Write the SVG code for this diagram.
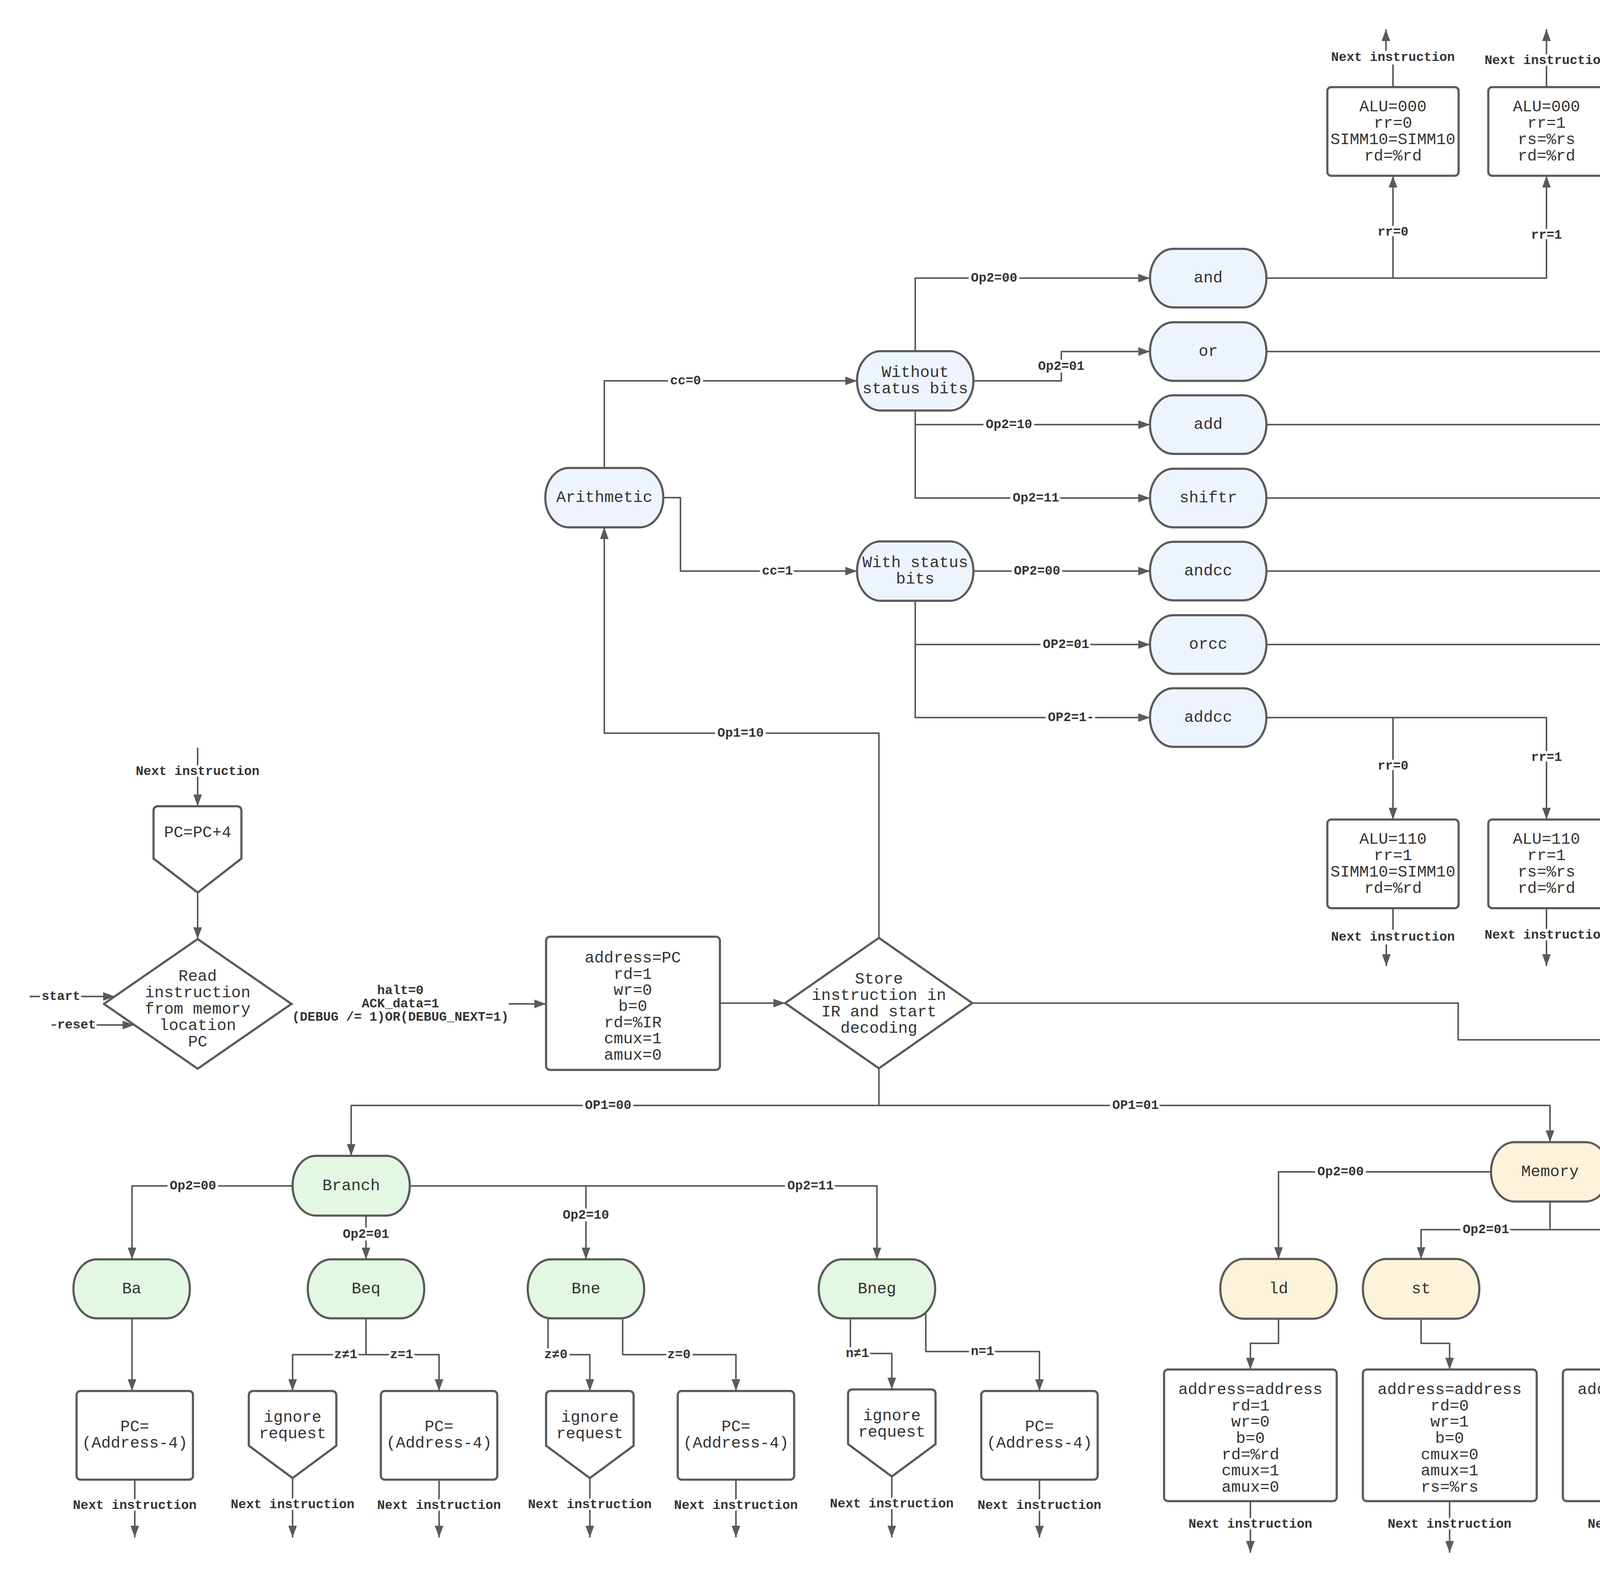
<svg xmlns="http://www.w3.org/2000/svg" width="6624" height="4050" viewBox="0 0 6624 4050">
<style>
.n{stroke:#5a5a5a;stroke-width:5.5;stroke-linejoin:round}
.bl{fill:#edf4fe}.gr{fill:#e2f8e2}.ye{fill:#fdf2da}.pk{fill:#faedfd}.wh{fill:#ffffff}
.t{font-family:'Liberation Mono',monospace;font-size:41px;fill:#333;text-anchor:middle;dominant-baseline:central}
.c{fill:none;stroke:#5a5a5a;stroke-width:4;stroke-linejoin:round;marker-end:url(#ah)}
.l{font-family:'Liberation Mono',monospace;font-weight:bold;font-size:33px;fill:#333;text-anchor:middle;dominant-baseline:central;stroke:#fff;stroke-width:14;paint-order:stroke;stroke-linejoin:round}
.lb{fill:#fff}
</style>
<defs>
<marker id="ah" viewBox="0 0 30 22" refX="30" refY="11" markerWidth="30" markerHeight="22" markerUnits="userSpaceOnUse" orient="auto"><path d="M0,0 L30,11 L0,22 Z" fill="#5a5a5a"/></marker>
</defs>
<rect width="6624" height="4050" fill="#fff"/>
<g id="connectors">
<path class="c" d="M1547,1198 V975 H2194"/>
<path class="c" d="M1698,1274 H1742 V1462 H2194"/>
<path class="c" d="M2250,2401 V1877 H1547 V1350"/>
<path class="c" d="M2343,899 V712 H2944"/>
<path class="c" d="M2492,975 H2717 V900 H2944"/>
<path class="c" d="M2343,1051 V1087 H2944"/>
<path class="c" d="M2343,1051 V1275 H2944"/>
<path class="c" d="M2492,1462 H2944"/>
<path class="c" d="M2343,1538 V1650 H2944"/>
<path class="c" d="M2343,1538 V1837 H2944"/>
<path class="c" d="M3242,712 H3566 V450"/>
<path class="c" d="M3242,712 H3959 V450"/>
<path class="c" d="M3242,900 H4390 V450"/>
<path class="c" d="M3242,900 H4783 V450"/>
<path class="c" d="M3242,1087 H5216 V450"/>
<path class="c" d="M3242,1087 H5610 V450"/>
<path class="c" d="M3242,1275 H4504 V1124 H5762"/>
<path class="c" d="M3242,1275 H4504 V1425 H5762"/>
<path class="c" d="M3242,1462 H5216 V2098"/>
<path class="c" d="M3242,1462 H5610 V2098"/>
<path class="c" d="M3242,1650 H4390 V2098"/>
<path class="c" d="M3242,1650 H4783 V2098"/>
<path class="c" d="M3242,1837 H3566 V2098"/>
<path class="c" d="M3242,1837 H3959 V2098"/>
<path class="c" d="M3566,223 V165 M3548,130 V75"/>
<path class="c" d="M3959,223 V75"/>
<path class="c" d="M4390,223 V165 M4372,130 V75"/>
<path class="c" d="M4783,223 V75"/>
<path class="c" d="M5216,223 V165 M5198,130 V75"/>
<path class="c" d="M5610,223 V75"/>
<path class="c" d="M3566,2325 V2380 M3549,2418 V2473"/>
<path class="c" d="M3959,2325 V2473"/>
<path class="c" d="M4390,2325 V2380 M4370,2418 V2473"/>
<path class="c" d="M4783,2325 V2473"/>
<path class="c" d="M5216,2325 V2380 M5196,2418 V2473"/>
<path class="c" d="M5610,2325 V2473"/>
<path class="c" d="M6060,1124 H6546"/>
<path class="c" d="M6098,1425 H6546"/>
<path class="c" d="M506,1914 V2064"/>
<path class="c" d="M506,2285 V2404"/>
<path class="c" d="M76,2551 H294"/>
<path class="c" d="M132,2624 H344"/>
<path class="c" d="M746,2570 H1398"/>
<path class="c" d="M1843,2568 H2010"/>
<path class="c" d="M2250,2735 V2830 H899 V2959"/>
<path class="c" d="M2250,2735 V2830 H3968 V2924"/>
<path class="c" d="M2489,2568 H3733 V2662 H4975"/>
<path class="c" d="M749,3036 H338 V3224"/>
<path class="c" d="M937,3112 V3224"/>
<path class="c" d="M1049,3036 H1500 V3224"/>
<path class="c" d="M1049,3036 H2245 V3224"/>
<path class="c" d="M338,3375 V3561"/>
<path class="c" d="M937,3375 V3468 H749 V3561"/>
<path class="c" d="M937,3375 V3468 H1124 V3561"/>
<path class="c" d="M1403,3372 V3468 H1510 V3561"/>
<path class="c" d="M1594,3373 V3468 H1884 V3561"/>
<path class="c" d="M2177,3372 V3465 H2283 V3557"/>
<path class="c" d="M2370,3358 V3460 H2661 V3561"/>
<path class="c" d="M345,3788 V3936"/>
<path class="c" d="M749,3784 V3936"/>
<path class="c" d="M1124,3788 V3936"/>
<path class="c" d="M1510,3784 V3936"/>
<path class="c" d="M1884,3788 V3936"/>
<path class="c" d="M2283,3780 V3936"/>
<path class="c" d="M2661,3788 V3936"/>
<path class="c" d="M3817,3000 H3273 V3223"/>
<path class="c" d="M4119,3000 H4662 V3223"/>
<path class="c" d="M3968,3076 V3148 H3638 V3223"/>
<path class="c" d="M3968,3076 V3148 H4295 V3223"/>
<path class="c" d="M3273,3376 V3439 H3201 V3506"/>
<path class="c" d="M3638,3376 V3439 H3711 V3506"/>
<path class="c" d="M4295,3376 V3439 H4223 V3506"/>
<path class="c" d="M4662,3376 V3439 H4734 V3506"/>
<path class="c" d="M3201,3843 V3975"/>
<path class="c" d="M3711,3843 V3975"/>
<path class="c" d="M4223,3843 V3975"/>
<path class="c" d="M4734,3843 V3975"/>
<path class="c" d="M5206,2737 V2987 H5276 V3241"/>
<path class="c" d="M5206,2737 V2987 H5651 V3241"/>
<path class="c" d="M5206,2737 V2987 H6025 V3241"/>
<path class="c" d="M5276,3390 V3577"/>
<path class="c" d="M5651,3390 V3577"/>
<path class="c" d="M6025,3390 V3577"/>
<path class="c" d="M5276,3803 V3953"/>
<path class="c" d="M5651,3803 V3953"/>
<g id="labels">
<text class="l" x="1755" y="975">cc=0</text>
<text class="l" x="1990" y="1462">cc=1</text>
<text class="l" x="1896" y="1877">Op1=10</text>
<text class="l" x="2545" y="712">Op2=00</text>
<text class="l" x="2717" y="938">Op2=01</text>
<text class="l" x="2583" y="1087">Op2=10</text>
<text class="l" x="2652" y="1275">Op2=11</text>
<text class="l" x="2655" y="1462">OP2=00</text>
<text class="l" x="2729" y="1650">OP2=01</text>
<text class="l" x="2742" y="1837">OP2=1-</text>
<text class="l" x="3566" y="594">rr=0</text>
<text class="l" x="3959" y="602">rr=1</text>
<text class="l" x="4390" y="624">rr=0</text>
<text class="l" x="4783" y="674">rr=1</text>
<text class="l" x="5216" y="752">rr=0</text>
<text class="l" x="5610" y="750">r=11</text>
<text class="l" x="5377" y="1124">rr=0</text>
<text class="l" x="5259" y="1425">rr=1</text>
<text class="l" x="5216" y="1812">rr=0</text>
<text class="l" x="5610" y="1800">rr=1</text>
<text class="l" x="4390" y="1921">rr=0</text>
<text class="l" x="4783" y="1893">rr=1</text>
<text class="l" x="3566" y="1961">rr=0</text>
<text class="l" x="3959" y="1939">rr=1</text>
<text class="l" x="3566" y="147">Next instruction</text>
<text class="l" x="3959" y="155">Next instruction</text>
<text class="l" x="4390" y="147">Next instruction</text>
<text class="l" x="4783" y="155">Next instruction</text>
<text class="l" x="5216" y="147">Next instruction</text>
<text class="l" x="5610" y="155">Next instruction</text>
<text class="l" x="3566" y="2399">Next instruction</text>
<text class="l" x="3959" y="2394">Next instruction</text>
<text class="l" x="4390" y="2399">Next instruction</text>
<text class="l" x="4783" y="2392">Next instruction</text>
<text class="l" x="5216" y="2399">Next instruction</text>
<text class="l" x="5610" y="2392">Next instruction</text>
<rect class="lb" x="6114" y="1104" width="330" height="40"/>
<text class="l" x="6279" y="1124">Next instruction</text>
<rect class="lb" x="6132" y="1405" width="330" height="40"/>
<text class="l" x="6297" y="1425">Next instruction</text>
<text class="l" x="506" y="1975">Next instruction</text>
<text class="l" x="156" y="2551">start</text>
<text class="l" x="196" y="2624">reset</text>
<rect class="lb" x="750" y="2508" width="552" height="126"/>
<text class="l" x="1025" y="2536">halt=0</text>
<text class="l" x="1025" y="2570">ACK_data=1</text>
<text class="l" x="1025" y="2604">(DEBUG /= 1)OR(DEBUG_NEXT=1)</text>
<text class="l" x="1557" y="2830">OP1=00</text>
<text class="l" x="2907" y="2830">OP1=01</text>
<text class="l" x="4377" y="2662">OP1=11</text>
<text class="l" x="494" y="3036">Op2=00</text>
<text class="l" x="937" y="3160">Op2=01</text>
<text class="l" x="1500" y="3111">Op2=10</text>
<text class="l" x="2075" y="3036">Op2=11</text>
<text class="l" x="885" y="3468">z≠1</text>
<text class="l" x="1028" y="3468">z=1</text>
<text class="l" x="1423" y="3468">z≠0</text>
<text class="l" x="1738" y="3468">z=0</text>
<text class="l" x="2195" y="3465">n≠1</text>
<text class="l" x="2515" y="3460">n=1</text>
<text class="l" x="345" y="3854">Next instruction</text>
<text class="l" x="749" y="3852">Next instruction</text>
<text class="l" x="1124" y="3854">Next instruction</text>
<text class="l" x="1510" y="3852">Next instruction</text>
<text class="l" x="1884" y="3854">Next instruction</text>
<text class="l" x="2283" y="3850">Next instruction</text>
<text class="l" x="2661" y="3854">Next instruction</text>
<text class="l" x="3432" y="3000">Op2=00</text>
<text class="l" x="4420" y="3000">Op2=11</text>
<text class="l" x="3804" y="3148">Op2=01</text>
<text class="l" x="4185" y="3148">Op2=10</text>
<text class="l" x="3201" y="3902">Next instruction</text>
<text class="l" x="3711" y="3902">Next instruction</text>
<text class="l" x="4223" y="3902">Next instruction</text>
<text class="l" x="4734" y="3902">Next instruction</text>
<text class="l" x="5276" y="3115">OP2=00</text>
<text class="l" x="5651" y="3041">OP2=01</text>
<text class="l" x="6025" y="3039">OP2=1-</text>
<text class="l" x="5276" y="3871">Next instruction</text>
<text class="l" x="5651" y="3875">Next instruction</text>
</g>
</g>
<g id="nodes">
<g id="alu-t1"><rect class="n wh" x="3398" y="223" width="336" height="227" rx="10"/><text class="t" x="3566"><tspan x="3566" y="274">ALU=000</tspan><tspan x="3566" y="316">rr=0</tspan><tspan x="3566" y="358">SIMM10=SIMM10</tspan><tspan x="3566" y="400">rd=%rd</tspan></text></g>
<g id="alu-t2"><rect class="n wh" x="3810" y="223" width="298" height="227" rx="10"/><text class="t" x="3959"><tspan x="3959" y="274">ALU=000</tspan><tspan x="3959" y="316">rr=1</tspan><tspan x="3959" y="358">rs=%rs</tspan><tspan x="3959" y="400">rd=%rd</tspan></text></g>
<g id="alu-t3"><rect class="n wh" x="4222" y="223" width="336" height="227" rx="10"/><text class="t" x="4390"><tspan x="4390" y="274">ALU=001</tspan><tspan x="4390" y="316">rr=0</tspan><tspan x="4390" y="358">SIMM10=SIMM10</tspan><tspan x="4390" y="400">rd=%rd</tspan></text></g>
<g id="alu-t4"><rect class="n wh" x="4634" y="223" width="298" height="227" rx="10"/><text class="t" x="4783"><tspan x="4783" y="274">ALU=001</tspan><tspan x="4783" y="316">rr=1</tspan><tspan x="4783" y="358">rs=%rs</tspan><tspan x="4783" y="400">rd=%rd</tspan></text></g>
<g id="alu-t5"><rect class="n wh" x="5048" y="223" width="336" height="227" rx="10"/><text class="t" x="5216"><tspan x="5216" y="274">ALU=010</tspan><tspan x="5216" y="316">rr=0</tspan><tspan x="5216" y="358">SIMM10=SIMM10</tspan><tspan x="5216" y="400">rd=%rd</tspan></text></g>
<g id="alu-t6"><rect class="n wh" x="5461" y="223" width="298" height="227" rx="10"/><text class="t" x="5610"><tspan x="5610" y="274">ALU=010</tspan><tspan x="5610" y="316">rr=1</tspan><tspan x="5610" y="358">rs=%r2</tspan><tspan x="5610" y="400">rd=%rd</tspan></text></g>
<g id="alu-b1"><rect class="n wh" x="3398" y="2098" width="336" height="227" rx="10"/><text class="t" x="3566"><tspan x="3566" y="2149">ALU=110</tspan><tspan x="3566" y="2191">rr=1</tspan><tspan x="3566" y="2233">SIMM10=SIMM10</tspan><tspan x="3566" y="2275">rd=%rd</tspan></text></g>
<g id="alu-b2"><rect class="n wh" x="3810" y="2098" width="298" height="227" rx="10"/><text class="t" x="3959"><tspan x="3959" y="2149">ALU=110</tspan><tspan x="3959" y="2191">rr=1</tspan><tspan x="3959" y="2233">rs=%rs</tspan><tspan x="3959" y="2275">rd=%rd</tspan></text></g>
<g id="alu-b3"><rect class="n wh" x="4222" y="2098" width="336" height="227" rx="10"/><text class="t" x="4390"><tspan x="4390" y="2149">ALU=101</tspan><tspan x="4390" y="2191">rr=0</tspan><tspan x="4390" y="2233">SIMM10=SIMM10</tspan><tspan x="4390" y="2275">rd=%rd</tspan></text></g>
<g id="alu-b4"><rect class="n wh" x="4634" y="2098" width="298" height="227" rx="10"/><text class="t" x="4783"><tspan x="4783" y="2149">ALU=101</tspan><tspan x="4783" y="2191">rr=1</tspan><tspan x="4783" y="2233">rs=%rs</tspan><tspan x="4783" y="2275">rd=%rd</tspan></text></g>
<g id="alu-b5"><rect class="n wh" x="5048" y="2098" width="336" height="227" rx="10"/><text class="t" x="5216"><tspan x="5216" y="2149">ALU=100</tspan><tspan x="5216" y="2191">rr=0</tspan><tspan x="5216" y="2233">SIMM10=SIMM10</tspan><tspan x="5216" y="2275">rd=%rd</tspan></text></g>
<g id="alu-b6"><rect class="n wh" x="5461" y="2098" width="298" height="227" rx="10"/><text class="t" x="5610"><tspan x="5610" y="2149">ALU=100</tspan><tspan x="5610" y="2191">rr=1</tspan><tspan x="5610" y="2233">rs=%rs</tspan><tspan x="5610" y="2275">rd=%rd</tspan></text></g>
<g id="alu-r1"><rect class="n wh" x="5762" y="1010" width="298" height="228" rx="10"/><text class="t" x="5911"><tspan x="5911" y="1062">ALU=011</tspan><tspan x="5911" y="1104">rr=1</tspan><tspan x="5911" y="1146">rs=%rs</tspan><tspan x="5911" y="1188">rd=%rd</tspan></text></g>
<g id="alu-r2"><rect class="n wh" x="5762" y="1312" width="336" height="226" rx="10"/><text class="t" x="5930"><tspan x="5930" y="1362">ALU=011</tspan><tspan x="5930" y="1404">rr=0</tspan><tspan x="5930" y="1446">SIMM10=SIMM10</tspan><tspan x="5930" y="1488">rd=%rd</tspan></text></g>
<g id="arithmetic"><rect class="n bl" x="1396" y="1198" width="302" height="152" rx="60" ry="76"/><text class="t" x="1547" y="1274">Arithmetic</text></g>
<g id="without-status"><rect class="n bl" x="2194" y="899" width="298" height="152" rx="60" ry="76"/><text class="t" x="2343"><tspan x="2343" y="954">Without</tspan><tspan x="2343" y="996">status bits</tspan></text></g>
<g id="with-status"><rect class="n bl" x="2194" y="1386" width="298" height="152" rx="60" ry="76"/><text class="t" x="2343"><tspan x="2343" y="1441">With status</tspan><tspan x="2343" y="1483">bits</tspan></text></g>
<g id="op-and"><rect class="n bl" x="2944" y="637" width="298" height="150" rx="60" ry="75"/><text class="t" x="3093" y="712">and</text></g>
<g id="op-or"><rect class="n bl" x="2944" y="825" width="298" height="150" rx="60" ry="75"/><text class="t" x="3093" y="900">or</text></g>
<g id="op-add"><rect class="n bl" x="2944" y="1012" width="298" height="150" rx="60" ry="75"/><text class="t" x="3093" y="1087">add</text></g>
<g id="op-shiftr"><rect class="n bl" x="2944" y="1200" width="298" height="150" rx="60" ry="75"/><text class="t" x="3093" y="1275">shiftr</text></g>
<g id="op-andcc"><rect class="n bl" x="2944" y="1387" width="298" height="150" rx="60" ry="75"/><text class="t" x="3093" y="1462">andcc</text></g>
<g id="op-orcc"><rect class="n bl" x="2944" y="1575" width="298" height="150" rx="60" ry="75"/><text class="t" x="3093" y="1650">orcc</text></g>
<g id="op-addcc"><rect class="n bl" x="2944" y="1762" width="298" height="150" rx="60" ry="75"/><text class="t" x="3093" y="1837">addcc</text></g>
<g id="pc-inc"><path class="n wh" d="M393,2076 Q393,2064 405,2064 H606 Q618,2064 618,2076 V2198 L506,2285 L393,2198 Z"/><text class="t" x="506" y="2132">PC=PC+4</text></g>
<g id="read-instr"><polygon class="n wh" points="506,2404 746,2570 506,2736 266,2570"/><text class="t" x="506"><tspan x="506" y="2500">Read</tspan><tspan x="506" y="2542">instruction</tspan><tspan x="506" y="2584">from memory</tspan><tspan x="506" y="2626">location</tspan><tspan x="506" y="2668">PC</tspan></text></g>
<g id="fetch"><rect class="n wh" x="1398" y="2398" width="445" height="341" rx="10"/><text class="t" x="1620"><tspan x="1620" y="2453">address=PC</tspan><tspan x="1620" y="2495">rd=1</tspan><tspan x="1620" y="2536">wr=0</tspan><tspan x="1620" y="2577">b=0</tspan><tspan x="1620" y="2619">rd=%IR</tspan><tspan x="1620" y="2660">cmux=1</tspan><tspan x="1620" y="2702">amux=0</tspan></text></g>
<g id="store-decode"><polygon class="n wh" points="2250,2401 2489,2568 2250,2735 2010,2568"/><text class="t" x="2250"><tspan x="2250" y="2507">Store</tspan><tspan x="2250" y="2549">instruction in</tspan><tspan x="2250" y="2591">IR and start</tspan><tspan x="2250" y="2633">decoding</tspan></text></g>
<g id="branch"><rect class="n gr" x="749" y="2959" width="300" height="153" rx="60" ry="76"/><text class="t" x="899" y="3036">Branch</text></g>
<g id="ba"><rect class="n gr" x="188" y="3224" width="298" height="151" rx="60" ry="75"/><text class="t" x="337" y="3300">Ba</text></g>
<g id="beq"><rect class="n gr" x="788" y="3224" width="298" height="151" rx="60" ry="75"/><text class="t" x="937" y="3300">Beq</text></g>
<g id="bne"><rect class="n gr" x="1351" y="3224" width="298" height="151" rx="60" ry="75"/><text class="t" x="1500" y="3300">Bne</text></g>
<g id="bneg"><rect class="n gr" x="2096" y="3224" width="298" height="151" rx="60" ry="75"/><text class="t" x="2245" y="3300">Bneg</text></g>
<g id="pc-ba"><rect class="n wh" x="196" y="3561" width="298" height="227" rx="10"/><text class="t" x="345"><tspan x="345" y="3653">PC=</tspan><tspan x="345" y="3695">(Address-4)</tspan></text></g>
<g id="ign-beq"><path class="n wh" d="M637,3573 Q637,3561 649,3561 H849 Q861,3561 861,3573 V3701 L749,3784 L637,3701 Z"/><text class="t" x="749"><tspan x="749" y="3629">ignore</tspan><tspan x="749" y="3671">request</tspan></text></g>
<g id="pc-beq"><rect class="n wh" x="975" y="3561" width="298" height="227" rx="10"/><text class="t" x="1124"><tspan x="1124" y="3653">PC=</tspan><tspan x="1124" y="3695">(Address-4)</tspan></text></g>
<g id="ign-bne"><path class="n wh" d="M1398,3573 Q1398,3561 1410,3561 H1610 Q1622,3561 1622,3573 V3701 L1510,3784 L1398,3701 Z"/><text class="t" x="1510"><tspan x="1510" y="3629">ignore</tspan><tspan x="1510" y="3671">request</tspan></text></g>
<g id="pc-bne"><rect class="n wh" x="1735" y="3561" width="298" height="227" rx="10"/><text class="t" x="1884"><tspan x="1884" y="3653">PC=</tspan><tspan x="1884" y="3695">(Address-4)</tspan></text></g>
<g id="ign-bneg"><path class="n wh" d="M2171,3569 Q2171,3557 2183,3557 H2383 Q2395,3557 2395,3569 V3697 L2283,3780 L2171,3697 Z"/><text class="t" x="2283"><tspan x="2283" y="3625">ignore</tspan><tspan x="2283" y="3667">request</tspan></text></g>
<g id="pc-bneg"><rect class="n wh" x="2512" y="3561" width="298" height="227" rx="10"/><text class="t" x="2661"><tspan x="2661" y="3653">PC=</tspan><tspan x="2661" y="3695">(Address-4)</tspan></text></g>
<g id="memory"><rect class="n ye" x="3817" y="2924" width="302" height="152" rx="60" ry="76"/><text class="t" x="3968" y="3000">Memory</text></g>
<g id="ld"><rect class="n ye" x="3124" y="3223" width="298" height="153" rx="60" ry="76"/><text class="t" x="3273" y="3300">ld</text></g>
<g id="st"><rect class="n ye" x="3489" y="3223" width="298" height="153" rx="60" ry="76"/><text class="t" x="3638" y="3300">st</text></g>
<g id="ldb"><rect class="n ye" x="4146" y="3223" width="298" height="153" rx="60" ry="76"/><text class="t" x="4295" y="3300">ldb</text></g>
<g id="stb"><rect class="n ye" x="4513" y="3223" width="298" height="153" rx="60" ry="76"/><text class="t" x="4662" y="3300">stb</text></g>
<g id="ld-box"><rect class="n wh" x="2980" y="3506" width="442" height="337" rx="10"/><text class="t" x="3201"><tspan x="3201" y="3558">address=address</tspan><tspan x="3201" y="3600">rd=1</tspan><tspan x="3201" y="3641">wr=0</tspan><tspan x="3201" y="3683">b=0</tspan><tspan x="3201" y="3725">rd=%rd</tspan><tspan x="3201" y="3766">cmux=1</tspan><tspan x="3201" y="3808">amux=0</tspan></text></g>
<g id="st-box"><rect class="n wh" x="3489" y="3506" width="445" height="337" rx="10"/><text class="t" x="3711"><tspan x="3711" y="3558">address=address</tspan><tspan x="3711" y="3600">rd=0</tspan><tspan x="3711" y="3641">wr=1</tspan><tspan x="3711" y="3683">b=0</tspan><tspan x="3711" y="3725">cmux=0</tspan><tspan x="3711" y="3766">amux=1</tspan><tspan x="3711" y="3808">rs=%rs</tspan></text></g>
<g id="ldb-box"><rect class="n wh" x="4001" y="3506" width="444" height="337" rx="10"/><text class="t" x="4223"><tspan x="4223" y="3558">address=address</tspan><tspan x="4223" y="3600">rd=1</tspan><tspan x="4223" y="3641">wr=0</tspan><tspan x="4223" y="3683">b=1</tspan><tspan x="4223" y="3725">rd=%rd</tspan><tspan x="4223" y="3766">cmux=1</tspan><tspan x="4223" y="3808">amux=0</tspan></text></g>
<g id="stb-box"><rect class="n wh" x="4512" y="3506" width="445" height="337" rx="10"/><text class="t" x="4734"><tspan x="4734" y="3558">address=address</tspan><tspan x="4734" y="3600">rd=0</tspan><tspan x="4734" y="3641">wr=1</tspan><tspan x="4734" y="3683">b=1</tspan><tspan x="4734" y="3725">cmux=0</tspan><tspan x="4734" y="3766">amux=1</tspan><tspan x="4734" y="3808">rs=%rs</tspan></text></g>
<g id="misc"><rect class="n pk" x="4975" y="2587" width="460" height="150" rx="72" ry="75"/><text class="t" x="5205" y="2662" style="font-size:50px">Miscellaneous</text></g>
<g id="display"><rect class="n pk" x="5125" y="3241" width="301" height="149" rx="60" ry="74"/><text class="t" x="5276" y="3316">Display</text></g>
<g id="readio"><rect class="n pk" x="5501" y="3241" width="301" height="149" rx="60" ry="74"/><text class="t" x="5651" y="3316">readIO</text></g>
<g id="halt"><rect class="n pk" x="5875" y="3241" width="300" height="149" rx="60" ry="74"/><text class="t" x="6025" y="3316" font-weight="bold">HALT</text></g>
<g id="display-box"><rect class="n wh" x="5125" y="3577" width="301" height="226" rx="10"/><text class="t" x="5276"><tspan x="5276" y="3685">rs=%rs</tspan><tspan x="5276" y="3727">IO=01</tspan></text></g>
<g id="readio-box"><rect class="n wh" x="5501" y="3577" width="301" height="226" rx="10"/><text class="t" x="5651"><tspan x="5651" y="3685">rd=%rd</tspan><tspan x="5651" y="3727">IO=10</tspan></text></g>
<g id="halt-box"><rect class="n wh" x="5875" y="3577" width="300" height="226" rx="10"/><text class="t" x="6025" y="3690">Set halt=1</text></g>
</g>
</svg>
